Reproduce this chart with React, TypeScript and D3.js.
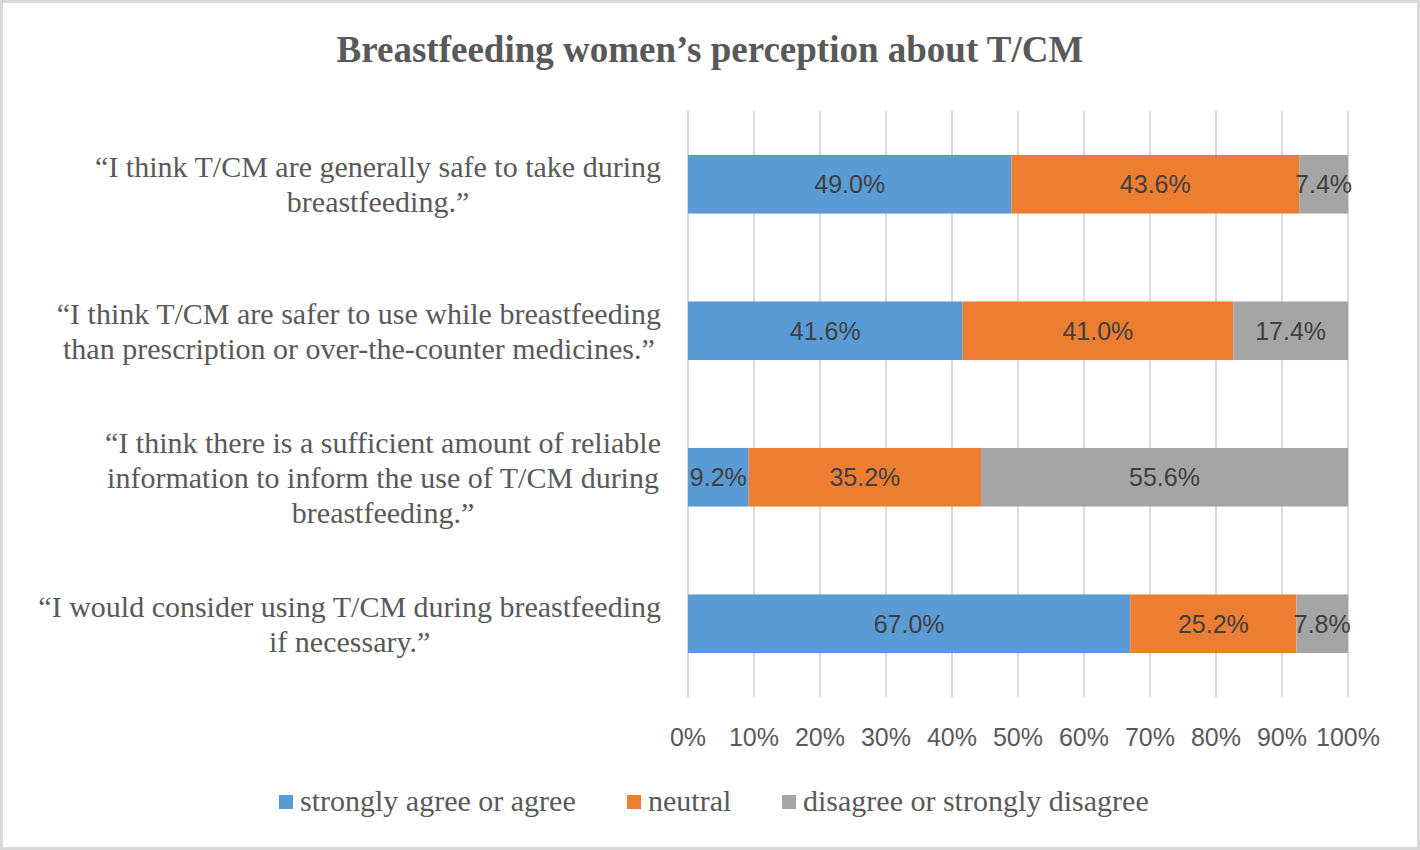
import React, { useEffect, useRef } from "react";
import * as d3 from "d3";

const categories: string[][] = [
  ["“I think T/CM are generally safe to take during", "breastfeeding.”"],
  ["“I think T/CM are safer to use while breastfeeding", "than prescription or over-the-counter medicines.”"],
  ["“I think there is a sufficient amount of reliable", "information to inform the use of T/CM during", "breastfeeding.”"],
  ["“I would consider using T/CM during breastfeeding", "if necessary.”"],
];
const seriesNames = ["strongly agree or agree", "neutral", "disagree or strongly disagree"];
const agree = [49.0, 41.6, 9.2, 67.0];
const neutral = [43.6, 41.0, 35.2, 25.2];
const disagree = [7.4, 17.4, 55.6, 7.8];
const ticks = [0, 10, 20, 30, 40, 50, 60, 70, 80, 90, 100];
const colors = ["#5B9BD5", "#ED7D31", "#A5A5A5"];
const title = "Breastfeeding women’s perception about T/CM";

const W = 1420;
const H = 850;
const SERIF = "'Liberation Serif', 'Times New Roman', serif";
const SANS = "'Liberation Sans', Arial, sans-serif";

export default function App() {
  const ref = useRef<SVGSVGElement | null>(null);
  useEffect(() => {
    const svg = d3.select(ref.current);
    svg.selectAll("*").remove();

    svg.append("rect").attr("x", 0).attr("y", 0).attr("width", W).attr("height", H).attr("fill", "#d9d9d9");
    svg.append("rect").attr("x", 3).attr("y", 3).attr("width", W - 6).attr("height", H - 6).attr("fill", "#ffffff");

    svg.append("text")
      .attr("x", 710).attr("y", 62)
      .attr("text-anchor", "middle")
      .attr("font-family", SERIF).attr("font-weight", "bold").attr("font-size", 37)
      .attr("fill", "#595959")
      .text(title);

    const x = d3.scaleLinear().domain([0, 100]).range([688, 1348]);
    const y = d3.scaleBand<number>().domain(d3.range(categories.length)).range([111, 697]).paddingInner(0.6).paddingOuter(0.3);

    const grid = svg.append("g");
    ticks.forEach((t) => {
      grid.append("line")
        .attr("x1", x(t)).attr("x2", x(t))
        .attr("y1", 111).attr("y2", 697)
        .attr("stroke", "#d9d9d9").attr("stroke-width", 2);
      grid.append("text")
        .attr("x", x(t)).attr("y", 746)
        .attr("text-anchor", "middle")
        .attr("font-family", SANS).attr("font-size", 25)
        .attr("fill", "#595959")
        .text(`${t}%`);
    });

    const rows = categories.map((_, i) => [agree[i], neutral[i], disagree[i]]);
    const bars = svg.append("g");
    rows.forEach((vals, i) => {
      let acc = 0;
      vals.forEach((v, s) => {
        const x0 = x(acc);
        const x1 = x(acc + v);
        bars.append("rect")
          .attr("x", x0).attr("y", y(i)!)
          .attr("width", x1 - x0).attr("height", y.bandwidth())
          .attr("fill", colors[s]);
        bars.append("text")
          .attr("x", (x0 + x1) / 2).attr("y", y(i)! + y.bandwidth() / 2)
          .attr("dy", "0.35em")
          .attr("text-anchor", "middle")
          .attr("font-family", SANS).attr("font-size", 25)
          .attr("fill", "#404040")
          .text(`${v.toFixed(1)}%`);
        acc += v;
      });
    });

    const labels = svg.append("g");
    const lineH = 35;
    categories.forEach((lines, i) => {
      const cy = y(i)! + y.bandwidth() / 2;
      const g = labels.append("g");
      const texts = lines.map((ln, k) =>
        g.append("text")
          .attr("y", cy + (k - (lines.length - 1) / 2) * lineH)
          .attr("dy", "0.35em")
          .attr("text-anchor", "middle")
          .attr("font-family", SERIF).attr("font-size", 30)
          .attr("fill", "#595959")
          .text(ln)
      );
      const widths = texts.map((t) => (t.node() as SVGTextElement).getComputedTextLength());
      const maxW = d3.max(widths) || 0;
      const cx = 661 - maxW / 2;
      texts.forEach((t) => t.attr("x", cx));
    });

    const legendItems = svg.append("g");
    const legX = [279, 627, 782];
    seriesNames.forEach((n, s) => {
      legendItems.append("rect")
        .attr("x", legX[s]).attr("y", 795)
        .attr("width", 14).attr("height", 14)
        .attr("fill", colors[s]);
      legendItems.append("text")
        .attr("x", legX[s] + 21).attr("y", 811)
        .attr("font-family", SERIF).attr("font-size", 30)
        .attr("fill", "#595959")
        .text(n);
    });
  }, []);

  return (
    <svg
      ref={ref}
      width={W}
      height={H}
      style={{ position: "absolute", left: 0, top: 0, display: "block" }}
    />
  );
}
